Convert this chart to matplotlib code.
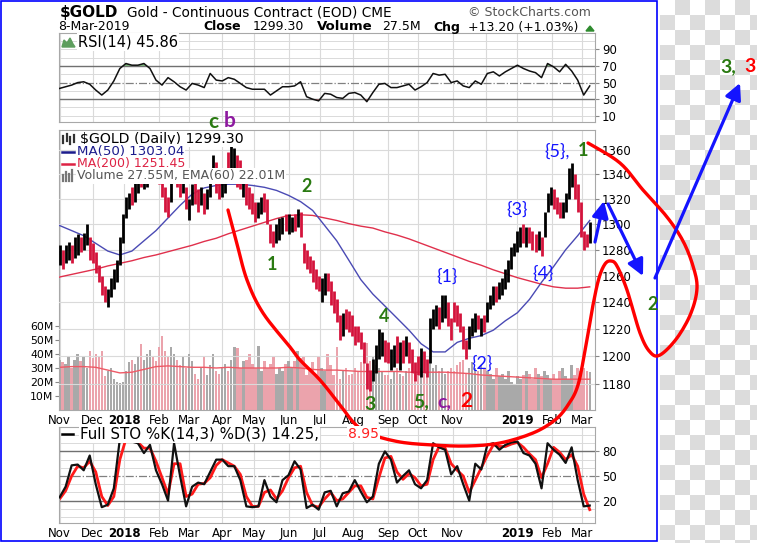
"""
Gold continuous contract (StockCharts style) with hand-drawn Elliott wave markup.
Writes out.png at 757x543.
"""

import numpy as np
import pandas as pd
import matplotlib
matplotlib.use("Agg")
import matplotlib.pyplot as plt
from matplotlib.patches import Rectangle, Polygon
from matplotlib.ticker import FixedLocator, NullLocator, FuncFormatter

plt.rcParams["font.family"] = ["DejaVu Sans"]

# ---------------------------------------------------------------- data
START, END = "2017-11-01", "2019-03-08"
BAR_STEP = 2        # one drawn bar per 2 trading days
LINE_STEP = 8       # moving averages / volume EMA sampled every 8 trading days
OSC_STEP = 4        # RSI / stochastic sampled every 4 trading days

bar_lo = [
    1268, 1265, 1270, 1272, 1270, 1274, 1276, 1278, 1280, 1284, 1272,          # Nov 17
    1270, 1262, 1255, 1245, 1240, 1236, 1244, 1250, 1255, 1268, 1285,          # Dec
    1305, 1312, 1315, 1318, 1325, 1330, 1328, 1330, 1340, 1338, 1335,          # Jan 18
    1332, 1322, 1310, 1306, 1318, 1340, 1330, 1322, 1325, 1312,                # Feb
    1303, 1315, 1316, 1310, 1315, 1308, 1312, 1322, 1335, 1325, 1320,          # Mar
    1322, 1325, 1335, 1338, 1335, 1330, 1328, 1322, 1315, 1312, 1308,          # Apr
    1302, 1305, 1308, 1310, 1300, 1285, 1282, 1285, 1288, 1292, 1295,          # May
    1292, 1294, 1295, 1298, 1290, 1270, 1265, 1262, 1255, 1250, 1248,          # Jun
    1240, 1245, 1248, 1238, 1232, 1225, 1212, 1215, 1220, 1218, 1215,          # Jul
    1208, 1210, 1205, 1195, 1176, 1175, 1182, 1188, 1198, 1200, 1196,          # Aug
    1195, 1190, 1192, 1195, 1190, 1195, 1200, 1195, 1188, 1182,                # Sep
    1186, 1185, 1188, 1185, 1195, 1220, 1222, 1220, 1225, 1228, 1222, 1212,    # Oct
    1225, 1222, 1218, 1205, 1198, 1205, 1215, 1218, 1220, 1215, 1218,          # Nov
    1225, 1235, 1238, 1240, 1242, 1245, 1250, 1255, 1265, 1275,                # Dec
    1278, 1282, 1285, 1282, 1285, 1280, 1278, 1280, 1275, 1290, 1310, 1315,    # Jan 19
    1312, 1308, 1305, 1305, 1310, 1320, 1330, 1320, 1310, 1290,                # Feb
    1280, 1282, 1285,                                                          # Mar
]
bar_hi = [
    1284, 1280, 1284, 1286, 1284, 1290, 1292, 1290, 1293, 1300, 1290,
    1285, 1278, 1268, 1260, 1252, 1250, 1258, 1265, 1272, 1290, 1308,
    1322, 1325, 1330, 1335, 1342, 1345, 1342, 1350, 1365, 1362, 1350,
    1350, 1340, 1330, 1322, 1352, 1362, 1352, 1338, 1340, 1330,
    1320, 1332, 1338, 1328, 1330, 1325, 1328, 1340, 1356, 1350, 1336,
    1338, 1340, 1358, 1364, 1362, 1356, 1352, 1345, 1335, 1330, 1325,
    1318, 1318, 1322, 1325, 1320, 1300, 1295, 1300, 1305, 1306, 1308,
    1308, 1306, 1308, 1312, 1310, 1285, 1280, 1275, 1272, 1265, 1260,
    1258, 1262, 1262, 1256, 1248, 1242, 1230, 1232, 1235, 1233, 1230,
    1222, 1222, 1218, 1210, 1195, 1190, 1198, 1208, 1220, 1218, 1212,
    1210, 1205, 1208, 1215, 1210, 1212, 1215, 1210, 1205, 1196,
    1200, 1206, 1204, 1198, 1228, 1235, 1238, 1236, 1245, 1245, 1240, 1228,
    1240, 1238, 1232, 1222, 1212, 1222, 1228, 1232, 1230, 1228, 1230,
    1240, 1245, 1252, 1252, 1255, 1258, 1265, 1272, 1282, 1285,
    1295, 1298, 1300, 1298, 1298, 1295, 1292, 1295, 1290, 1310, 1325, 1330,
    1328, 1322, 1318, 1318, 1325, 1345, 1349, 1340, 1332, 1318,
    1295, 1292, 1302,
]
# k = up bar (black), r = down bar (red)
bar_dir = ("krkkrkkrkkr" "rrrrrkkkkkk" "kkrkkrkkkrr" "rrrrkkrrkr" "kkrrkrkkkrr"
           "kkrkkrrkrrr" "rkkrrrrkkkr" "kkrkrrrrrrr" "kkrrrrrkrrr" "rrrrrrkkkkr"
           "rkkrkrkrrr" "rkrrkkkrkkrr" "rrrrrkkkrkr" "kkkrkkkkkk" "kkrkrrrkrkkk"
           "rrrkkkkrrr" "rrk")
volume_m = [
    36, 34, 33, 38, 30, 36, 40, 35, 38, 30, 42,
    37, 40, 38, 42, 24, 28, 30, 22, 20, 19, 20,
    28, 34, 36, 33, 38, 47, 36, 40, 43, 38, 35,
    45, 53, 42, 38, 45, 40, 36, 32, 38, 30,
    40, 35, 26, 22, 30, 38, 25, 32, 40, 28, 26,
    30, 33, 28, 36, 45, 44, 30, 35, 36, 40, 33,
    30, 46, 28, 35, 30, 33, 38, 26, 30, 28, 33,
    35, 30, 35, 42, 37, 38, 25, 30, 34, 26, 38,
    30, 28, 40, 32, 25, 45, 22, 28, 30, 25, 26,
    30, 28, 34, 40, 48, 35, 38, 32, 30, 28, 25,
    25, 22, 28, 30, 26, 24, 28, 30, 26, 28,
    24, 30, 26, 28, 38, 30, 32, 28, 30, 26, 28, 30,
    28, 32, 34, 36, 26, 30, 34, 30, 28, 32, 30,
    28, 26, 22, 30, 24, 26, 22, 28, 20, 18,
    24, 22, 25, 28, 26, 22, 30, 26, 24, 28, 25, 22,
    26, 22, 28, 30, 24, 22, 32, 25, 30, 28,
    30, 28, 27,
]

ma50 = [1299, 1295, 1291, 1285, 1279, 1276, 1279, 1287, 1295, 1305,
        1315, 1324, 1329, 1331, 1332, 1332, 1331, 1329.5, 1327, 1323,
        1318, 1311, 1299, 1287, 1272, 1257, 1246, 1237, 1228, 1219,
        1209, 1203, 1203, 1210, 1213, 1215, 1219, 1226, 1232, 1242,
        1255, 1267, 1280, 1291, 1303]
ma200 = [1259, 1261, 1263, 1265, 1267.5, 1269.5, 1271.5, 1274, 1276, 1278.5,
         1281, 1283.5, 1286.5, 1289, 1292.5, 1295.5, 1298.5, 1301.5, 1304.5, 1307,
         1307.5, 1307, 1305, 1303, 1300.5, 1298.5, 1297, 1294, 1291.5, 1288.5,
         1285, 1281.5, 1278, 1274.5, 1271, 1268, 1264.5, 1261.5, 1258.5, 1256,
         1253.5, 1251.5, 1250.5, 1250.5, 1251.5]
vol_ema = [30.5, 31, 31, 30.5, 28.5, 26.5, 27, 29, 31, 31.5,
           31, 30.5, 30.5, 30, 30.5, 30, 30, 30, 30, 30.5,
           30, 29, 28.5, 28.5, 28, 27.5, 27.5, 27.5, 27.5, 27,
           27, 27, 27, 26.5, 26, 25, 24.5, 24, 23.5, 23,
           22.5, 22, 22, 22, 22]

rsi = [43, 45, 47, 50, 51, 48, 41, 35, 41, 52,
       67, 73, 71, 71, 73, 67, 53, 47, 56, 51,
       45, 41, 49, 47, 44, 61, 53, 52, 56, 54,
       49, 44, 42, 42, 42, 35, 40, 45, 45, 46,
       51, 33, 30, 28, 37, 36, 32, 31, 37, 38,
       35, 27, 38, 48, 49, 44, 44, 46, 48, 41,
       45, 50, 61, 59, 60, 50, 52, 46, 44, 52,
       48, 61, 63, 58, 63, 67, 71, 67, 64, 62,
       56, 73, 69, 63, 72, 64, 53, 35, 46]
sto_k = [24, 37, 63, 64, 57, 75, 40, 12, 15, 35,
         95, 100, 92, 90, 78, 88, 57, 40, 20, 90,
         50, 13, 37, 42, 40, 55, 70, 70, 62, 62,
         45, 13, 12, 13, 45, 25, 18, 45, 51, 68,
         58, 11, 15, 9, 30, 32, 13, 29, 31, 45,
         31, 18, 25, 65, 80, 70, 42, 50, 57, 40,
         35, 45, 90, 85, 82, 52, 62, 40, 20, 65,
         58, 88, 90, 82, 88, 91, 92, 78, 75, 65,
         35, 90, 82, 76, 66, 85, 45, 13, 14]
sto_d = [22, 32, 50, 62, 60, 68, 55, 25, 14, 25,
         70, 95, 96, 91, 84, 84, 68, 48, 28, 65,
         65, 25, 28, 40, 41, 48, 63, 70, 66, 62,
         52, 25, 13, 13, 30, 33, 22, 32, 48, 60,
         62, 30, 14, 12, 22, 30, 20, 22, 30, 38,
         38, 24, 22, 48, 72, 74, 55, 46, 53, 48,
         38, 40, 70, 86, 84, 65, 57, 50, 30, 45,
         60, 75, 88, 86, 86, 89, 91, 85, 77, 70,
         48, 65, 85, 79, 70, 76, 62, 28, 9]

month_starts = ["2017-11-01", "2017-12-01", "2018-01-01", "2018-02-01", "2018-03-01",
                "2018-04-01", "2018-05-01", "2018-06-01", "2018-07-01", "2018-08-01",
                "2018-09-01", "2018-10-01", "2018-11-01", "2018-12-01", "2019-01-01",
                "2019-02-01", "2019-03-01"]
month_labels = ["Nov", "Dec", "2018", "Feb", "Mar", "Apr", "May", "Jun", "Jul", "Aug",
                "Sep", "Oct", "Nov", "", "2019", "Feb", "Mar"]
price_ticks = [1180, 1200, 1220, 1240, 1260, 1280, 1300, 1320, 1340, 1360]
vol_ticks = [10, 20, 30, 40, 50, 60]

# ---------------------------------------------------------------- colours
UP, DOWN = "#000000", "#d4143c"
VOL_UP, VOL_DOWN = "#a9a9a9", "#eba3ac"
MA50_C, MA200_C = "#4a4ab4", "#e0304c"
GRID, FRAME = "#dadada", "#a8a8a8"
GREEN, PURPLE, WAVE_RED, WAVE_BLUE = "#2a7a12", "#8e1aa0", "#ff0000", "#1414ff"

W, H = 757, 543
fig = plt.figure(figsize=(W / 100, H / 100), dpi=100)


def px_axes(x0, y0, x1, y1, **kw):
    return fig.add_axes([x0 / W, 1 - y1 / H, (x1 - x0) / W, (y1 - y0) / H], **kw)


bdays = pd.bdate_range(START, END)
month_pos = bdays.searchsorted(pd.to_datetime(month_starts))
xb = np.arange(len(bar_lo)) * BAR_STEP
xl = np.arange(len(ma50)) * LINE_STEP
xo = np.arange(len(rsi)) * OSC_STEP
colors = [UP if c == "k" else DOWN for c in bar_dir]
vcolors = [VOL_UP if c == "k" else VOL_DOWN for c in bar_dir]

L, R = 59, 595
ax_r = px_axes(L, 33, R, 122)
ax_v = px_axes(L, 130, R, 410, sharex=ax_r)
ax_p = ax_v.twinx()
ax_s = px_axes(L, 427, R, 523, sharex=ax_r)


def frame(ax):
    for sp in ax.spines.values():
        sp.set_color(FRAME)
        sp.set_linewidth(0.8)
    ax.set_xticks(month_pos)
    ax.grid(axis="x", color=GRID, lw=0.8)
    ax.set_axisbelow(True)
    ax.tick_params(axis="x", length=0, labelsize=8.5, pad=3)
    ax.tick_params(axis="y", length=3, color="#888888", labelsize=8.5, pad=2)


for a in (ax_r, ax_v, ax_s):
    frame(a)
ax_r.set_xlim(-0.4, 355.5)
ax_r.tick_params(axis="x", labelbottom=False)

# ---- RSI
ax_r.set_ylim(2.5, 109.8)
for lev in range(0, 101, 10):
    if lev in (30, 50, 70):
        continue
    ax_r.axhline(lev, color=GRID, lw=0.7, zorder=0)
ax_r.axhline(70, color="#707070", lw=1.0, zorder=1)
ax_r.axhline(30, color="#707070", lw=1.0, zorder=1)
ax_r.axhline(50, color="#808080", lw=0.9, ls="-.", zorder=1)
rsi_a = np.array(rsi, float)
ax_r.fill_between(xo, rsi_a, 70, where=rsi_a > 70, interpolate=True, color="#7ab27a", lw=0)
ax_r.fill_between(xo, rsi_a, 30, where=rsi_a < 30, interpolate=True, color="#b06a6a", lw=0)
ax_r.plot(xo, rsi_a, color="#111111", lw=1.1, zorder=3)
ax_r.yaxis.tick_right()
ax_r.set_yticks([10, 30, 50, 70, 90])

# ---- volume (behind) and price (log scale, in front)
ax_v.bar(xb, volume_m, width=1.6, color=vcolors, lw=0, zorder=1)
ax_v.plot(xl, vol_ema, color="#ee5a66", lw=1.0, zorder=2)
ax_v.set_ylim(0, 200)
ax_v.yaxis.tick_left()
ax_v.set_yticks(vol_ticks)
ax_v.set_yticklabels([f"{v}M" for v in vol_ticks])
ax_v.tick_params(axis="y", labelsize=7.8, pad=1, length=3)
ax_v.set_xticklabels(month_labels)

ax_p.set_yscale("log")
ax_p.set_ylim(1161.3, 1376.6)
ax_p.yaxis.set_major_locator(FixedLocator(price_ticks))
ax_p.yaxis.set_major_formatter(FuncFormatter(lambda v, _: f"{v:.0f}"))
ax_p.yaxis.set_minor_locator(NullLocator())
ax_p.tick_params(axis="y", length=3, color="#888888", labelsize=8.5, pad=2)
for sp in ax_p.spines.values():
    sp.set_visible(False)
for t in price_ticks:
    ax_p.axhline(t, color=GRID, lw=0.8, zorder=0)
ax_p.plot(xl, ma200, color=MA200_C, lw=1.0, zorder=2)
ax_p.plot(xl, ma50, color=MA50_C, lw=1.0, zorder=2)
ax_p.vlines(xb, bar_lo, bar_hi, colors=colors, lw=2.0, zorder=3)

# ---- full stochastics
ax_s.set_ylim(-7.3, 109.8)
for lev in range(0, 101, 10):
    if lev in (20, 50, 80):
        continue
    ax_s.axhline(lev, color=GRID, lw=0.7, zorder=0)
ax_s.axhline(80, color="#707070", lw=1.0, zorder=1)
ax_s.axhline(20, color="#707070", lw=1.0, zorder=1)
ax_s.axhline(50, color="#808080", lw=0.9, ls="-.", zorder=1)
ax_s.plot(xo, sto_d, color="#ff1a1a", lw=2.0, zorder=2)
ax_s.plot(xo, sto_k, color="#111111", lw=1.6, zorder=3)
ax_s.yaxis.tick_right()
ax_s.set_yticks([20, 50, 80])
ax_s.set_xticklabels(month_labels)

for a in (ax_v, ax_s):
    for lab in a.get_xticklabels():
        if lab.get_text() in ("2018", "2019"):
            lab.set_fontweight("bold")

# ---------------------------------------------------------------- overlay (pixel coords)
bg = fig.add_axes([0, 0, 1, 1], zorder=-5)
bg.set_xlim(0, W)
bg.set_ylim(H, 0)
bg.axis("off")
rows, cols = 37, 7
checker = (np.add.outer(np.arange(rows), np.arange(cols) + 44) % 2).astype(float)
bg.imshow(checker, cmap=matplotlib.colors.ListedColormap(["#ffffff", "#dcdcdc"]),
          extent=(660, 660 + 15 * cols, 15 * rows, 0), interpolation="nearest", aspect="auto")

ov = fig.add_axes([0, 0, 1, 1], zorder=10)
ov.set_xlim(0, W)
ov.set_ylim(H, 0)
ov.axis("off")
ov.patch.set_visible(False)
ov.add_patch(Rectangle((1, 1), 656, 540, fill=False, ec="#0000ff", lw=1.2))


def txt(x, y, s, size=9, color="#000000", weight="normal", ha="left", box=False, **kw):
    bbox = dict(fc="white", ec="none", pad=0.8) if box else None
    ov.text(x, y, s, fontsize=size, color=color, fontweight=weight, ha=ha, va="center",
            bbox=bbox, **kw)


# header
txt(60, 12, r"\$GOLD", size=11, weight="bold")
txt(127, 13, "Gold - Continuous Contract (EOD) CME", size=9.8)
txt(468, 13, "© StockCharts.com", size=9, color="#555555")
txt(58, 27, "8-Mar-2019", size=9)
txt(203, 27, "Close", size=9, weight="bold")
txt(253, 27, "1299.30", size=9)
txt(317, 27, "Volume", size=9.5, weight="bold")
txt(382, 27, "27.5M", size=9)
txt(433, 27, "Chg", size=9, weight="bold")
txt(468, 27, "+13.20 (+1.03%)", size=9)
ov.add_patch(Polygon([[586, 31], [594, 31], [590, 26]], color="#2e8b2e"))

# panel legends
ov.add_patch(Polygon([[62, 47], [64, 40], [67, 43], [70, 38], [73, 44], [75, 47]], color="#5e9e5e"))
txt(78, 42, "RSI(14) 45.86", size=10.5, box=True)
for i, (lo, hi) in enumerate([(136, 143), (134, 141), (137, 144), (135, 142)]):
    ov.plot([63 + i * 3.5, 63 + i * 3.5], [lo, hi], color="#333333", lw=1.6)
txt(80, 139, r"\$GOLD (Daily) 1299.30", size=10.2, box=True)
ov.plot([62, 74], [152, 152], color="#1c1c8c", lw=1.8)
txt(77, 152, "MA(50) 1303.04", size=9.6, color="#1c1c8c", box=True)
ov.plot([62, 74], [164, 164], color="#dd2244", lw=1.8)
txt(77, 164, "MA(200) 1251.45", size=9, color="#dd2244", box=True)
for i, top in enumerate([175, 172, 174, 170]):
    ov.plot([63 + i * 3, 63 + i * 3], [top, 181], color="#777777", lw=1.6)
txt(77, 176, "Volume 27.55M, EMA(60) 22.01M", size=9, color="#555555", box=True)
ov.plot([62, 73], [434, 434], color="#000000", lw=1.8)
txt(80, 434, "Full STO %K(14,3) %D(3) 14.25,", size=10.8, box=True)
txt(348, 434, "8.95", size=10, color="#ff2020", box=True)


# hand-drawn markup
def smooth(pts, n=8):
    p = np.asarray(pts, float)
    p = np.vstack([p[0], p, p[-1]])
    out = []
    t = np.linspace(0, 1, n, endpoint=False)[:, None]
    for i in range(1, len(p) - 2):
        p0, p1, p2, p3 = p[i - 1], p[i], p[i + 1], p[i + 2]
        out.append(0.5 * (2 * p1 + (-p0 + p2) * t + (2 * p0 - 5 * p1 + 4 * p2 - p3) * t ** 2
                          + (-p0 + 3 * p1 - 3 * p2 + p3) * t ** 3))
    out.append(p[-2][None])
    return np.vstack(out)


swoosh = [(228, 210), (236, 240), (247, 280), (263, 313), (290, 347), (300, 360), (320, 380),
          (340, 405), (355, 424), (370, 434), (400, 442), (433, 445), (467, 446), (500, 443),
          (533, 433), (555, 420), (568, 405), (578, 385), (586, 345), (593, 305), (599, 278),
          (605, 264), (611, 261), (617, 266), (627, 290), (640, 333), (650, 352), (660, 355),
          (677, 338), (691, 313), (697, 288), (693, 266), (683, 241), (667, 217), (643, 190),
          (620, 163), (588, 143)]
sw = smooth(swoosh)
ov.plot(sw[:, 0], sw[:, 1], color=WAVE_RED, lw=2.4, solid_capstyle="round", solid_joinstyle="round")

for (x0, y0), (x1, y1) in [((595, 242), (604, 201)), ((608, 204), (643, 276)),
                           ((655, 278), (740, 83))]:
    ov.annotate("", xy=(x1, y1), xytext=(x0, y0),
                arrowprops=dict(arrowstyle="-|>,head_length=0.7,head_width=0.35", lw=2.3,
                                color=WAVE_BLUE, shrinkA=0, shrinkB=0, mutation_scale=14))

lab = dict(family="Lato", ha="center", va="center")
ov.text(213, 122, "c", fontsize=15, color=GREEN, fontweight="bold", **lab)
ov.text(230, 121, "b", fontsize=15, color=PURPLE, fontweight="bold", **lab)
ov.text(307, 186, "2", fontsize=13, color=GREEN, fontweight="bold", **lab)
ov.text(272, 264, "1", fontsize=13, color=GREEN, fontweight="bold", **lab)
ov.text(384, 317, "4", fontsize=13, color=GREEN, fontweight="bold", **lab)
ov.text(370, 404, "3", fontsize=14, color=GREEN, fontweight="bold", **lab)
ov.text(421, 402, "5,", fontsize=14, color=GREEN, fontweight="bold", **lab)
ov.text(444, 402, "c,", fontsize=14, color=PURPLE, fontweight="bold", **lab)
ov.text(466, 401, "2", fontsize=15, color=WAVE_RED, fontweight="bold", **lab)
ov.text(447, 277, "{1}", fontsize=13, color=WAVE_BLUE, **lab)
ov.text(482, 364, "{2}", fontsize=13, color=WAVE_BLUE, **lab)
ov.text(517, 210, "{3}", fontsize=13, color=WAVE_BLUE, **lab)
ov.text(543, 274, "{4}", fontsize=13, color=WAVE_BLUE, **lab)
ov.text(557, 151, "{5},", fontsize=13, color=WAVE_BLUE, **lab)
ov.text(583, 151, "1", fontsize=13, color=GREEN, fontweight="bold", **lab)
ov.text(653, 304, "2", fontsize=13, color=GREEN, fontweight="bold", **lab)
ov.text(728, 67, "3,", fontsize=14, color=GREEN, fontweight="bold", **lab)
ov.text(750, 67, "3", fontsize=14, color=WAVE_RED, fontweight="bold", **lab)

fig.savefig("out.png", dpi=100)
